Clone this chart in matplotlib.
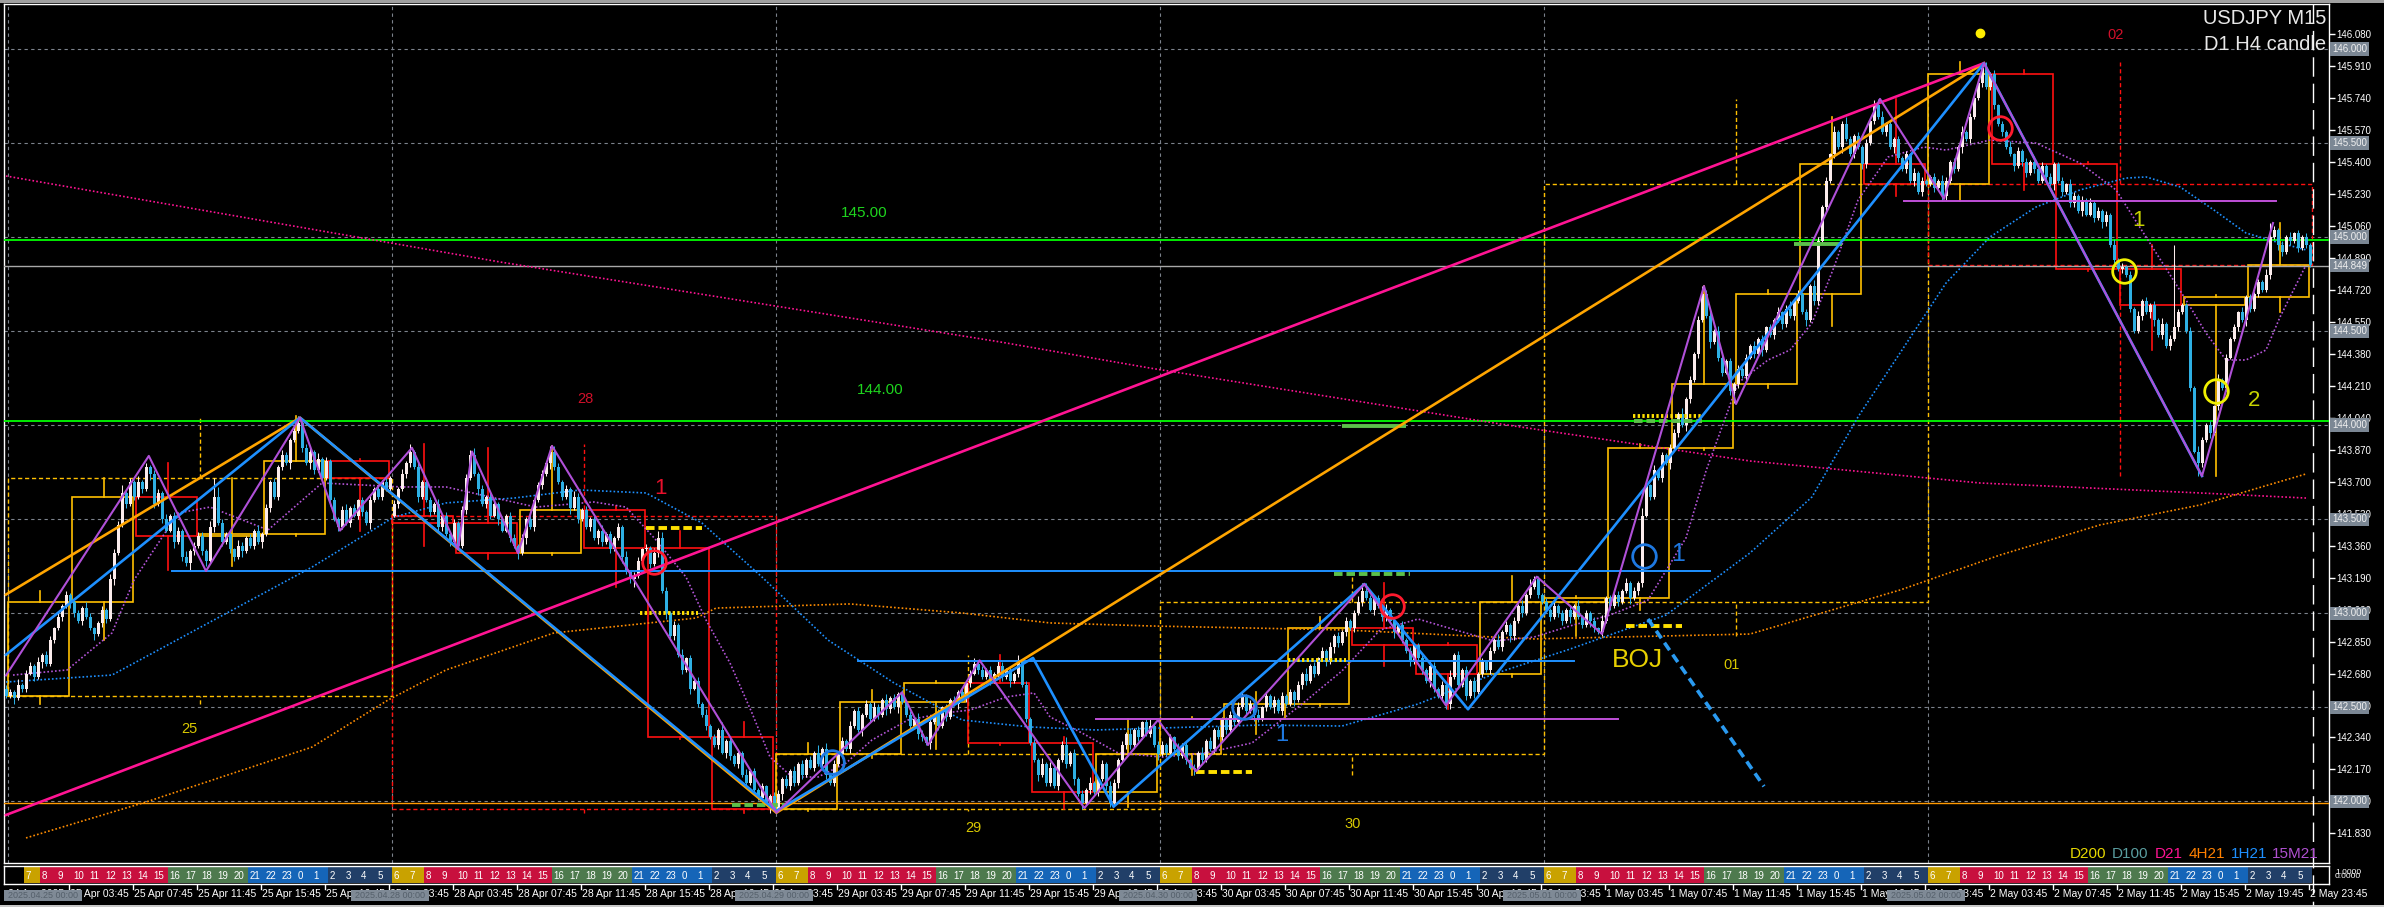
import numpy as np
import matplotlib
matplotlib.use("Agg")
import matplotlib.pyplot as plt
from matplotlib.patches import Rectangle
from matplotlib.lines import Line2D
from matplotlib.transforms import blended_transform_factory

plt.rcParams['font.family'] = ['Liberation Sans', 'DejaVu Sans']

# ---------------- USDJPY M15 closes, 24 Apr 23:45 .. 2 May 23:45 (one line = one H4) ----------------
first_open = 142.60
closes_24apr = [142.56]
closes_25apr = [
    142.58, 142.55, 142.62, 142.60, 142.68, 142.72, 142.66, 142.74, 142.78, 142.73, 142.86, 142.92, 142.98, 143.04, 143.10, 143.06,
    143.00, 142.96, 143.03, 142.98, 142.92, 142.89, 142.95, 143.02, 142.97, 143.18, 143.32, 143.47, 143.64, 143.58, 143.70, 143.62,
    143.70, 143.66, 143.78, 143.74, 143.58, 143.64, 143.50, 143.44, 143.52, 143.38, 143.44, 143.30, 143.27, 143.33, 143.36, 143.41,
    143.33, 143.28, 143.46, 143.62, 143.48, 143.38, 143.42, 143.34, 143.30, 143.36, 143.33, 143.40, 143.36, 143.44, 143.38, 143.42,
    143.56, 143.70, 143.62, 143.78, 143.84, 143.80, 143.92, 143.97, 144.01, 143.88, 143.80, 143.86, 143.76, 143.82, 143.72, 143.81,
    143.60, 143.50, 143.46, 143.55, 143.48, 143.56, 143.52, 143.60, 143.54, 143.48, 143.60, 143.66, 143.62, 143.70, 143.66, 143.72,
]
closes_28apr = [
    143.58, 143.66, 143.74, 143.80, 143.86, 143.78, 143.62, 143.70, 143.60, 143.54, 143.58, 143.46, 143.52, 143.42, 143.38, 143.48,
    143.36, 143.55, 143.72, 143.84, 143.74, 143.66, 143.58, 143.62, 143.52, 143.58, 143.50, 143.44, 143.52, 143.40, 143.36, 143.32,
    143.40, 143.50, 143.46, 143.60, 143.68, 143.74, 143.80, 143.86, 143.78, 143.70, 143.62, 143.66, 143.56, 143.62, 143.50, 143.55,
    143.46, 143.50, 143.40, 143.44, 143.38, 143.42, 143.34, 143.40, 143.46, 143.30, 143.22, 143.18, 143.20, 143.28, 143.34, 143.35,
    143.26, 143.32, 143.40, 143.12, 143.00, 142.88, 142.94, 142.78, 142.70, 142.76, 142.60, 142.64, 142.52, 142.46, 142.40, 142.34,
    142.30, 142.38, 142.26, 142.32, 142.24, 142.20, 142.26, 142.14, 142.10, 142.16, 142.06, 142.02, 142.08, 141.99, 142.03, 141.96,
]
closes_29apr = [
    142.04, 142.12, 142.08, 142.16, 142.10, 142.20, 142.14, 142.22, 142.18, 142.26, 142.20, 142.28, 142.14, 142.10, 142.20, 142.25,
    142.32, 142.28, 142.40, 142.48, 142.38, 142.46, 142.52, 142.44, 142.50, 142.46, 142.54, 142.49, 142.55, 142.50, 142.57, 142.53,
    142.46, 142.40, 142.44, 142.36, 142.34, 142.31, 142.42, 142.46, 142.40, 142.50, 142.45, 142.54, 142.52, 142.58, 142.55, 142.63,
    142.68, 142.73, 142.70, 142.66, 142.70, 142.64, 142.68, 142.72, 142.66, 142.70, 142.64, 142.68, 142.74, 142.62, 142.44, 142.31,
    142.22, 142.14, 142.20, 142.10, 142.18, 142.08, 142.22, 142.30, 142.20, 142.26, 142.12, 142.04, 141.99, 142.06, 142.10, 142.05,
    142.12, 142.20, 142.08, 141.99, 142.10, 142.22, 142.30, 142.36, 142.30, 142.38, 142.34, 142.42, 142.36, 142.40, 142.30, 142.25,
]
closes_30apr = [
    142.30, 142.26, 142.34, 142.28, 142.24, 142.30, 142.22, 142.18, 142.17, 142.26, 142.22, 142.32, 142.28, 142.38, 142.34, 142.44,
    142.38, 142.46, 142.42, 142.50, 142.56, 142.48, 142.52, 142.46, 142.44, 142.50, 142.56, 142.50, 142.54, 142.48, 142.56, 142.52,
    142.58, 142.54, 142.62, 142.68, 142.64, 142.72, 142.68, 142.76, 142.80, 142.74, 142.82, 142.88, 142.84, 142.90, 142.96, 142.92,
    143.00, 143.06, 143.12, 143.08, 143.02, 143.08, 143.04, 142.98, 143.02, 142.96, 142.90, 142.94, 142.86, 142.80, 142.74, 142.83,
    142.76, 142.70, 142.64, 142.72, 142.60, 142.56, 142.62, 142.52, 142.66, 142.78, 142.62, 142.70, 142.56, 142.64, 142.58, 142.68,
    142.74, 142.70, 142.80, 142.86, 142.82, 142.90, 142.94, 142.88, 142.96, 143.04, 143.00, 143.10, 143.14, 143.18, 143.10, 143.06,
]
closes_01may = [
    143.02, 142.98, 143.04, 143.00, 142.96, 143.02, 142.98, 143.04, 142.98, 142.94, 143.00, 142.96, 142.92, 142.90, 142.96, 143.08,
    143.04, 143.10, 143.06, 143.12, 143.16, 143.08, 143.12, 143.16, 143.52, 143.68, 143.62, 143.76, 143.72, 143.84, 143.80, 143.88,
    143.96, 144.06, 144.00, 144.14, 144.24, 144.38, 144.56, 144.70, 144.58, 144.44, 144.50, 144.36, 144.28, 144.34, 144.18, 144.22,
    144.30, 144.26, 144.36, 144.42, 144.38, 144.46, 144.40, 144.52, 144.48, 144.56, 144.60, 144.54, 144.62, 144.58, 144.66, 144.70,
    144.60, 144.56, 144.74, 144.66, 144.98, 145.16, 145.30, 145.44, 145.56, 145.48, 145.60, 145.52, 145.44, 145.54, 145.48, 145.39,
    145.50, 145.62, 145.70, 145.64, 145.56, 145.60, 145.48, 145.52, 145.42, 145.36, 145.44, 145.30, 145.34, 145.24, 145.30, 145.28,
]
closes_02may = [
    145.32, 145.26, 145.30, 145.22, 145.30, 145.40, 145.36, 145.48, 145.56, 145.52, 145.64, 145.74, 145.82, 145.90, 145.80, 145.87,
    145.70, 145.60, 145.56, 145.48, 145.44, 145.38, 145.46, 145.40, 145.34, 145.40, 145.36, 145.30, 145.38, 145.32, 145.28, 145.39,
    145.30, 145.24, 145.28, 145.18, 145.22, 145.14, 145.20, 145.12, 145.18, 145.10, 145.14, 145.08, 145.12, 144.96, 144.88, 144.83,
    144.84, 144.80, 144.62, 144.50, 144.58, 144.66, 144.60, 144.64, 144.56, 144.48, 144.54, 144.42, 144.46, 144.52, 144.60, 144.64,
    144.50, 144.20, 143.86, 143.80, 143.92, 144.00, 143.96, 144.10, 144.24, 144.20, 144.36, 144.46, 144.52, 144.60, 144.56, 144.68,
    144.62, 144.70, 144.76, 144.72, 144.80, 145.00, 145.04, 144.96, 144.92, 145.00, 144.98, 145.02, 144.94, 145.00, 144.96, 144.85,
]
gap_opens = {97: 143.52}   # Monday open after the weekend

# wick sizes in pips (first bar, then one string per H4)
wick_up_first, wick_dn_first = 2, 1
wick_up_groups = [
    "2131 2213 1221 3121", "1213 2112 1322 4121", "3121 2213 1221 3122",
    "2131 5212 1321 2131", "2121 3213 4122 1312", "1212 3121 2131 2121",
    "2131 4121 2213 1212", "1223 4121 2312 1221", "2131 2213 3212 1321",
    "2121 3121 2131 2212", "1343 2121 3121 2131", "2141 2121 3121 2112",
    "2121 3121 2141 3121", "2131 2121 3213 1212", "1213 2121 3121 2131",
    "2312 1213 2121 4121", "2131 3212 4121 2131", "1213 2121 3121 2412",
    "2121 3121 2131 2121", "1213 2121 3121 2121", "2121 3121 2131 2121",
    "2341 2121 3121 2121", "1213 2121 4121 2121", "2121 3121 2131 4121",
    "2131 2121 3121 2131", "2121 3121 4213 1212", "2131 2121 2413 2121",
    "2121 3121 2131 2412", "1213 2121 3124 2121", "2131 3121 2121 3121",
    "1213 2121 3121 2131", "2121 3121 2131 2121", "1213 2121 3121 2131",
    "2121 3121 2131 2121", "1213 2121 3121 2131", "2121 3121 2131 2121",
]
wick_dn_groups = [
    "1312 2121 3112 1213", "2121 1312 2131 1212", "1213 2121 1312 2121",
    "2313 1212 2131 1213", "1212 2131 1213 2121", "3121 1212 2131 1212",
    "1212 2131 1213 2121", "2121 1312 2131 1213", "1312 1213 2121 3121",
    "1213 2121 1312 4121", "2121 3121 2131 2121", "1213 2121 3121 2121",
    "1312 2121 1213 2121", "2121 1312 1213 2131", "1213 2131 2121 1312",
    "2121 1213 2131 2121", "1312 2121 2131 3121", "2121 1312 2121 1213",
    "1213 2121 3121 1212", "2121 1213 2121 3121", "1312 2121 1213 2121",
    "2121 1312 2131 2121", "1213 2121 3121 2131", "2121 1213 2121 2121",
    "1212 2131 1213 2121", "2121 1312 2121 1213", "1213 2121 1312 2121",
    "2121 2131 1213 2121", "1312 2121 2131 1213", "2121 1213 2121 3121",
    "1213 2121 3121 1212", "2121 1312 2121 1213", "1212 2131 1213 2121",
    "2121 1213 3121 2121", "1213 2131 2121 1213", "2121 1213 2121 2121",
]
spike_highs = {52: 143.72, 101: 143.88, 116: 143.86, 136: 143.89, 163: 143.43, 243: 142.75,
               340: 143.16, 382: 143.20, 424: 144.74, 468: 145.735, 494: 145.925, 542: 144.96, 566: 145.075}
spike_lows = {46: 143.23, 83: 143.44, 157: 143.16, 191: 141.94, 269: 141.965, 276: 141.97,
              297: 142.15, 360: 142.49, 399: 142.89, 432: 144.12, 484: 145.20, 548: 143.73}

# moving averages (bar index, price)
ma_d21_x = [0, 123.5, 248.5, 286, 373.5, 436, 493.5, 548.5, 575]
ma_d21_y = [145.325, 144.868, 144.443, 144.304, 144.007, 143.81, 143.693, 143.64, 143.613]
ma_4h_x = [5, 35, 76.5, 95.5, 110, 137, 172.5, 177.5, 211, 239, 261, 286, 334, 382, 436, 473.5, 498.5, 523.5, 548.5, 575]
ma_4h_y = [141.806, 141.997, 142.289, 142.539, 142.699, 142.896, 142.975, 143.028, 143.05, 143.002,
           142.949, 142.933, 142.912, 142.864, 142.89, 143.124, 143.31, 143.47, 143.576, 143.741]
ma_1h_x = [0, 26.5, 52, 76.5, 97, 110, 127, 143.5, 160, 174, 189, 205.5, 222, 239, 256, 272.5, 288, 313.5, 334, 353,
           372, 391, 415, 436, 451.5, 463, 474, 485, 496, 507.5, 518.5, 530, 535, 543.5, 552, 560, 568.5, 575]
ma_1h_y = [142.635, 142.672, 142.965, 143.246, 143.512, 143.587, 143.613, 143.656, 143.64, 143.48,
           143.193, 142.858, 142.63, 142.433, 142.396, 142.38, 142.39, 142.406, 142.401, 142.518,
           142.678, 142.81, 142.991, 143.321, 143.619, 144.044, 144.40, 144.756, 145.001, 145.16,
           145.251, 145.314, 145.32, 145.267, 145.144, 145.022, 144.969, 144.932]
ma_15m_x = [1.75, 15.25, 26.5, 32, 43, 51, 65.5, 79, 99, 110, 121, 132.5, 147, 155, 162.5, 170, 175, 181, 186.5, 191,
            196.5, 203, 210, 216.5, 225.5, 234.5, 241, 250, 257, 261, 269, 278, 289, 300, 311.5, 324, 334, 343.5, 353, 362.5,
            372, 382, 391, 401, 410.5, 420, 425, 430, 433, 440.5, 446, 451.5, 457, 463, 470.5, 479.5, 485, 496, 507.5, 518.5,
            527.5, 535, 545, 550, 555, 560, 565, 568.5, 574.75]
ma_15m_y = [142.672, 142.699, 142.896, 143.177, 143.533, 143.565, 143.443, 143.693, 143.672, 143.672,
            143.619, 143.565, 143.592, 143.565, 143.39, 143.193, 142.965, 142.736, 142.47, 142.236,
            142.13, 142.13, 142.204, 142.327, 142.433, 142.47, 142.486, 142.555, 142.577, 142.449,
            142.364, 142.258, 142.236, 142.258, 142.311, 142.518, 142.694, 142.911, 142.97, 142.911,
            142.853, 142.874, 142.933, 142.991, 143.071, 143.401, 143.757, 144.049, 144.225, 144.347,
            144.40, 144.544, 144.841, 145.197, 145.426, 145.479, 145.463, 145.516, 145.5, 145.394,
            145.251, 145.001, 144.666, 144.49, 144.347, 144.347, 144.40, 144.575, 144.841]

# zigzags (bar index, price)
zz_pink_x, zz_pink_y = [0, 494.5], [141.928, 145.925]
zz_orange_x, zz_orange_y = [0, 73.5, 192.6, 494.5], [143.10, 144.04, 141.94, 145.925]
zz_blue_x = [0, 73.5, 192.6, 256.75, 276.9, 339.6, 365.5, 494.5, 549]
zz_blue_y = [142.78, 144.04, 141.95, 142.763, 141.972, 143.156, 142.49, 145.925, 143.73]
zz_purple_x = [0, 35.7, 50, 73.5, 83.5, 101.5, 113, 116.5, 128, 136.5, 192.6, 224, 230.5, 243.4, 269.6, 288, 297.5,
               339.6, 360, 382.7, 399, 424.5, 432.5, 468.5, 484.5, 494.5, 549, 566.75]
zz_purple_y = [142.67, 143.837, 143.225, 144.04, 143.44, 143.88, 143.34, 143.86, 143.32, 143.89, 141.94, 142.58, 142.30,
               142.75, 141.965, 142.433, 142.16, 143.156, 142.51, 143.195, 142.89, 144.74, 144.113, 145.735, 145.203,
               145.925, 143.73, 145.075]

# horizontal levels
green_levels = [144.985, 144.023]
last_price = 144.849
orange_level = 141.992
blue_segments = [(143.225, 41.5, 426), (142.745, 213, 392)]
purple_segments = [(142.44, 272.5, 403), (145.194, 474.5, 567.5)]
# short marks: price, from bar, to bar, colour key, style
short_marks = [
    (143.454, 160, 174, "y", "dash"), (143.0, 158.5, 173, "y", "dot"), (141.98, 181.5, 195.5, "g", "dash"),
    (142.157, 297.5, 311.5, "y", "dash"), (143.211, 332, 351, "g", "dash"), (142.754, 320.5, 335, "y", "dot"),
    (142.935, 405, 419, "y", "dash"), (144.05, 406.7, 424, "y", "dot"), (144.02, 407, 424, "g", "dash"),
    (143.996, 334, 350, "g", "solid"), (144.964, 447, 459, "g", "solid"),
]
arrow_x, arrow_y = [410.5, 439.5], [142.97, 142.08]
circles_red = [(162, 143.275), (346.5, 143.04), (498.5, 145.58)]
circles_blue = [(206.5, 142.21), (309.5, 142.50), (409.4, 143.305)]
circles_yellow = [(529.5, 144.822), (552.5, 144.184)]

grid_levels = [142.0, 142.5, 143.0, 143.5, 144.0, 144.5, 145.0, 145.5, 146.0]
price_ticks = [146.08, 145.91, 145.74, 145.57, 145.40, 145.23, 145.06, 144.89, 144.72, 144.55, 144.38, 144.21, 144.04,
               143.87, 143.70, 143.53, 143.36, 143.19, 143.02, 142.85, 142.68, 142.51, 142.34, 142.17, 142.00, 141.83]
boxed_levels = [146.0, 145.5, 145.0, 144.849, 144.5, 144.0, 143.5, 143.0, 142.5, 142.0]
time_days = ["25 Apr", "28 Apr", "29 Apr", "30 Apr", "1 May", "2 May"]
time_hours = ["03:45", "07:45", "11:45", "15:45", "19:45", "23:45"]
sep_labels = ["2025.04.25 00:00", "2025.04.28 00:00", "2025.04.29 00:00",
              "2025.04.30 00:00", "2025.05.01 00:00", "2025.05.02 00:00"]

# ---------------- build OHLC ----------------
closes = np.array(closes_24apr + closes_25apr + closes_28apr + closes_29apr
                  + closes_30apr + closes_01may + closes_02may)
n = len(closes)
opens = np.r_[first_open, closes[:-1]]
for b, v in gap_opens.items():
    opens[b] = v
up = np.array([wick_up_first] + [int(ch) for g in wick_up_groups for ch in g if ch.isdigit()]) / 100
dn = np.array([wick_dn_first] + [int(ch) for g in wick_dn_groups for ch in g if ch.isdigit()]) / 100
highs = np.maximum(opens, closes) + up
lows = np.minimum(opens, closes) - dn
for b, v in spike_highs.items():
    highs[b] = max(highs[b], v)
for b, v in spike_lows.items():
    lows[b] = min(lows[b], v)

# ---------------- figure ----------------
W, H = 2384, 907
fig = plt.figure(figsize=(W / 100, H / 100), dpi=100, facecolor="black")


def fx(px):
    return px / W


def fy(py):
    return 1 - py / H


X0, X1, Y0, Y1 = 4, 2329, 4, 863
ax = fig.add_axes([fx(X0), fy(Y1), fx(X1) - fx(X0), fy(Y0) - fy(Y1)])
ax.set_facecolor("black")
xmin, xmax = -0.5, (X1 - 6) / 4
ax.set_xlim(xmin, xmax)
ax.set_ylim(146.08 - (Y1 - 34) / 188.1, 146.08 + (34 - Y0) / 188.1)
for s in ax.spines.values():
    s.set_color("white")
    s.set_linewidth(1)
ax.set_xticks([])
ax.yaxis.tick_right()
ax.set_yticks(price_ticks)
ax.set_yticklabels([f"{v:.3f}" for v in price_ticks])
ax.tick_params(axis="y", colors="white", labelsize=7, length=4, width=1, pad=1.5)

GRID = "#7c828c"
for lv in grid_levels:
    ax.axhline(lv, color=GRID, lw=0.8, ls=(0, (3, 3)), zorder=1)
for d in range(6):
    ax.axvline(0.5 + 96 * d, color=GRID, lw=0.8, ls=(0, (3, 3)), zorder=1)

# D1 candles (dashed) and H4 candles (solid)
Y_BULL, R_BEAR = "#ffc000", "#ff1010"
for d in range(6):
    s, e = 1 + 96 * d, 96 + 96 * d
    o, c = opens[s], closes[e]
    hi, lo = highs[s:e + 1].max(), lows[s:e + 1].min()
    col = Y_BULL if c >= o else R_BEAR
    ax.add_patch(Rectangle((s - 0.5, min(o, c)), 96, abs(c - o), fill=False, ec=col, lw=1,
                           ls=(0, (3, 2)), zorder=2))
    xm = s + 47.5
    ax.plot([xm, xm], [max(o, c), hi], color=col, lw=1, ls=(0, (3, 2)), zorder=2)
    ax.plot([xm, xm], [lo, min(o, c)], color=col, lw=1, ls=(0, (3, 2)), zorder=2)
for k in range(36):
    s, e = 1 + 16 * k, 16 + 16 * k
    o, c = opens[s], closes[e]
    hi, lo = highs[s:e + 1].max(), lows[s:e + 1].min()
    col = Y_BULL if c >= o else R_BEAR
    ax.add_patch(Rectangle((s - 0.5, min(o, c)), 15.25, max(abs(c - o), 0.004), fill=False, ec=col,
                           lw=1.2, zorder=3))
    xm = s + 7.5
    ax.plot([xm, xm], [max(o, c), hi], color=col, lw=1.2, zorder=3)
    ax.plot([xm, xm], [lo, min(o, c)], color=col, lw=1.2, zorder=3)

# full-width levels
for lv in green_levels:
    ax.axhline(lv, color="#00ff00", lw=1.3, zorder=3)
ax.axhline(last_price, color="#a8a8a8", lw=1.0, zorder=3)
ax.axhline(orange_level, color="#ff9900", lw=1.0, zorder=3)

# moving averages (dotted)
dot = (0, (1.0, 1.3))
ax.plot(ma_d21_x, ma_d21_y, color="#ff1493", lw=1.2, ls=dot, zorder=4)
ax.plot(ma_4h_x, ma_4h_y, color="#ff8c00", lw=1.2, ls=dot, zorder=4)
ax.plot(ma_1h_x, ma_1h_y, color="#1e90ff", lw=1.2, ls=dot, zorder=4)
ax.plot(ma_15m_x, ma_15m_y, color="#b455d8", lw=1.2, ls=dot, zorder=4)

# candles
BULL, BEAR = "#fbecec", "#2eb0e4"
idx = np.arange(n)
bull = closes >= opens
body = np.maximum(np.abs(closes - opens), 0.005)
bottom = np.minimum(opens, closes)
for mask, col in ((bull, BULL), (~bull, BEAR)):
    ax.vlines(idx[mask], lows[mask], highs[mask], color=col, lw=0.75, zorder=5)
    ax.bar(idx[mask], body[mask], bottom=bottom[mask], width=0.75, color=col, lw=0, zorder=5)

# horizontal segments
for p, a, b in blue_segments:
    ax.plot([a, b], [p, p], color="#1e90ff", lw=1.4, zorder=6)
for p, a, b in purple_segments:
    ax.plot([a, b], [p, p], color="#c050d8", lw=1.4, zorder=6)
mark_cols = {"y": "#ffe000", "g": "#5cc04a"}
mark_ls = {"dash": (0, (2.2, 1.0)), "dot": (0, (0.6, 0.6)), "solid": "-"}
for p, a, b, ck, st in short_marks:
    ax.plot([a, b], [p, p], color=mark_cols[ck], lw=2.8, ls=mark_ls[st], solid_capstyle="butt",
            dash_capstyle="butt", zorder=6)

# zigzags
ax.plot(zz_orange_x, zz_orange_y, color="#ffa500", lw=1.9, zorder=7)
ax.plot(zz_pink_x, zz_pink_y, color="#ff1493", lw=1.9, zorder=7)
ax.plot(zz_blue_x, zz_blue_y, color="#1e90ff", lw=1.9, zorder=7)
ax.plot(zz_purple_x, zz_purple_y, color="#b050d8", lw=1.5, zorder=7)
ax.plot(arrow_x, arrow_y, color="#2a9af0", lw=2.6, ls=(0, (2.5, 1.5)), zorder=7)

# circles
for pts, col in ((circles_red, "#ff1a2e"), (circles_blue, "#1e78e0"), (circles_yellow, "#f0f000")):
    ax.plot([p[0] for p in pts], [p[1] for p in pts], "o", ms=17, mfc="none", mec=col, mew=2, zorder=8)
ax.plot([493.4], [146.083], "o", ms=6, color="#ffee00", zorder=8)

# labels on chart
ax.text(214.5, 145.128, "145.00", color="#1ed41e", fontsize=11, ha="center", va="center", zorder=8)
ax.text(218.5, 144.187, "144.00", color="#1ed41e", fontsize=11, ha="center", va="center", zorder=8)
for x, y, t, col in ((144.75, 144.14, "28", "#d0102a"), (527.5, 146.075, "02", "#d0102a"),
                     (45.75, 142.385, "25", "#d8c800"), (241.75, 141.859, "29", "#d8c800"),
                     (336.75, 141.88, "30", "#d8c800"), (431.5, 142.725, "01", "#d8c800")):
    ax.text(x, y, t, color=col, fontsize=10.5, ha="center", va="center", zorder=8)
for x, y, t, col, fs in ((163.5, 143.666, "1", "#e8102c", 16), (418, 143.316, "1", "#1e78e0", 18),
                         (319, 142.353, "1", "#1e78e0", 17), (533, 145.086, "1", "#c8d400", 16),
                         (562, 144.134, "2", "#c8d400", 16)):
    ax.text(x, y, t, color=col, fontsize=fs, ha="center", va="center", zorder=8)
ax.text(407.75, 142.752, "BOJ", color="#e8d000", fontsize=19, ha="center", va="center", zorder=8)

# boxed price labels on the right scale
tr = blended_transform_factory(ax.transAxes, ax.transData)
for lv in boxed_levels:
    ax.text(1.0013, lv, f"{lv:.3f}", transform=tr, color="#f0f0f0", fontsize=7, ha="left", va="center",
            bbox=dict(boxstyle="square,pad=0.18", fc="#7b8794", ec="none"), zorder=10, clip_on=False)

# title and legend
fig.text(fx(2326), fy(19), "USDJPY M15", color="#e8e8e8", fontsize=14.5, ha="right", va="center")
fig.text(fx(2326), fy(45), "D1 H4 candle", color="#e8e8e8", fontsize=14.5, ha="right", va="center")
for t, col, px in (("D200", "#e6d800", 2070), ("D100", "#5a9ea0", 2112), ("D21", "#ff1493", 2155),
                   ("4H21", "#ff8000", 2189), ("1H21", "#1e90ff", 2231), ("15M21", "#b050d0", 2272)):
    fig.text(fx(px), fy(854), t, color=col, fontsize=11, ha="left", va="center")

# ---------------- hour strip ----------------
sax = fig.add_axes([fx(X0), fy(884), fx(X1) - fx(X0), fy(866) - fy(884)])
sax.set_facecolor("black")
sax.set_xlim(xmin, xmax)
sax.set_ylim(0, 1)
sax.set_xticks([])
sax.set_yticks([])
for s in sax.spines.values():
    s.set_color("white")
    s.set_linewidth(1)
hour_colors = (["#1565b8"] * 2 + ["#213f68"] * 4 + ["#c9a200"] * 2 + ["#c8103e"] * 8
               + ["#4e7a4e"] * 5 + ["#1565b8"] * 3)
for k in range(1, 144):
    s = 1 + 4 * k
    jst = (k + 6) % 24
    sax.add_patch(Rectangle((s - 0.5, 0.07), 4, 0.86, color=hour_colors[jst], lw=0))
    sax.text(s - 0.2, 0.47, str(jst), color="white", fontsize=7, ha="left", va="center")
fig.text(fx(2335), fy(872), "1.0000", color="white", fontsize=6, ha="left", va="center")
fig.text(fx(2335), fy(876), "0.0000", color="white", fontsize=6, ha="left", va="center")

# ---------------- time axis ----------------
time_labels = ["24 Apr 2025"] + [f"{d} {h}" for d in time_days for h in time_hours]
for i, lab in enumerate(time_labels):
    bar = 16 * i
    xp = 6 + 4 * bar - 1
    if i > 0:
        fig.add_artist(Line2D([fx(xp), fx(xp)], [fy(885), fy(889)], color="white", lw=1))
    fig.text(fx(xp + 1 if i > 0 else 8), fy(894), lab, color="white", fontsize=7.5, ha="left", va="center")
for d, lab in enumerate(sep_labels):
    cx = 6 + 4 * (0.5 + 96 * d) - 2
    left = 4 if d == 0 else cx - 39
    fig.add_artist(Rectangle((fx(left), fy(901)), fx(78), 11 / H, transform=fig.transFigure,
                             color="#7f8a96", lw=0, zorder=5))
    fig.text(fx(left + 39), fy(895.5), lab, color="#55606b", fontsize=6.5, ha="center", va="center", zorder=6)

# chart-shift marker and window frame
fig.add_artist(Line2D([fx(2313), fx(2313)], [fy(4), fy(905)], color="white", lw=1, ls=(0, (14, 5))))
fig.add_artist(Rectangle((0, fy(3)), 1, 3 / H, transform=fig.transFigure, color="#a0a0a0", lw=0))
fig.add_artist(Rectangle((0, 0), 1, 2 / H, transform=fig.transFigure, color="#c8c8c8", lw=0))

fig.savefig("out.png", dpi=100, facecolor="black")
